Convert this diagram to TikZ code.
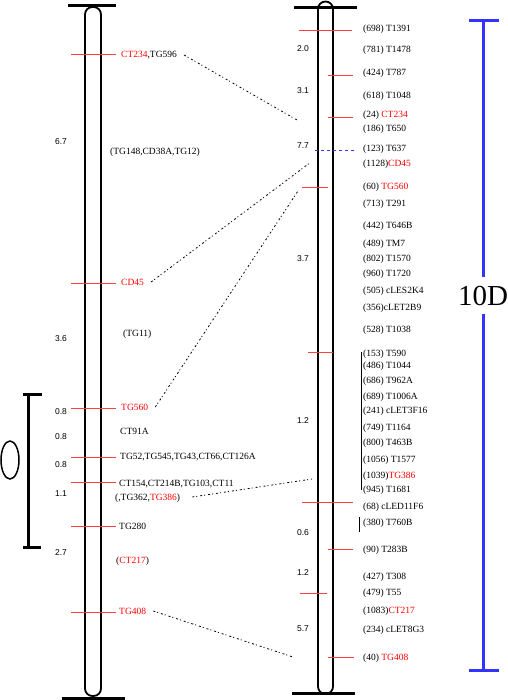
\documentclass[tikz,border=0pt]{standalone}
\usepackage{fontspec}
\setmainfont{Liberation Serif}
\newfontfamily\distfont{Liberation Sans}
\usepackage{tikz}
\usetikzlibrary{positioning}
\usepackage{xcolor}
\definecolor{tickred}{RGB}{255,64,64}
\definecolor{lblred}{RGB}{255,0,0}
\definecolor{barblue}{RGB}{51,51,255}
\newcommand{\rd}[1]{\textcolor{lblred}{#1}}

\begin{document}
\begin{tikzpicture}[
        x=1bp, y=-1bp,
        chrom/.style={draw, line width=1.8bp, rounded corners=7.5bp},
        endbar/.style={line width=3bp},
        tick/.style={draw=tickred, line width=1bp},
        mk/.style={anchor=west, inner sep=0pt, text height=6bp, text depth=0pt,
                   font=\fontsize{9.5bp}{11bp}\selectfont},
        dist/.style={inner sep=0pt, text height=6bp, text depth=0pt,
                     font=\distfont\fontsize{8.5bp}{10bp}\selectfont},
        link/.style={line width=0.8bp, dash pattern=on 2bp off 2bp on 1bp off 3bp}
      ]
      \useasboundingbox (0,0) rectangle (508,700);

      % left map
      \draw[chrom] (85,7) rectangle (101,696);
      \draw[endbar] (68,6) -- (116,6);
      \draw[endbar] (62,698) -- (125,698);
      \foreach \y in {55,283,408,457,482,526,612}
        \draw[tick] (71,\y) -- (116,\y);

      \node[mk] (lct234) at (121,55) {\rd{CT234},TG596};
      \node[mk] (ltg148) at (110,151) {(TG148,CD38A,TG12)};
      \node[mk] (lcd45) at (121,282) {\rd{CD45}};
      \node[mk] (ltg11) at (123,333) {(TG11)};
      \node[mk] (ltg560) at (121,407) {\rd{TG560}};
      \node[mk] (lct91a) at (120,431) {CT91A};
      \node[mk] (ltg52) at (120,456) {TG52,TG545,TG43,CT66,CT126A};
      \node[mk] (lct154) at (119,483) {CT154,CT214B,TG103,CT11};
      \node[mk] (ltg362) at (115,497) {(,TG362,\rd{TG386})};
      \node[mk] (ltg280) at (119,526) {TG280};
      \node[mk] (lct217) at (116,560) {(\rd{CT217})};
      \node[mk] (ltg408) at (119,611) {\rd{TG408}};

      \node[dist] (ld1) at (61,141) {6.7};
      \node[dist] (ld2) at (61,338) {3.6};
      \node[dist] (ld3) at (61,411) {0.8};
      \node[dist] (ld4) at (61,436) {0.8};
      \node[dist] (ld5) at (61,464) {0.8};
      \node[dist] (ld6) at (61,493) {1.1};
      \node[dist] (ld7) at (61,552) {2.7};

      \draw[line width=3bp] (23,394) -- (42,394) (28,394) -- (28,547) (23,547) -- (41,547);
      \draw[line width=1.5bp] (10,460) ellipse [x radius=9, y radius=19];

      % right map
      \draw[chrom] (318,1.5) rectangle (333,694);
      \draw[endbar] (294,8) -- (357,8);
      \draw[endbar] (292,693) -- (355,693);
      \draw[tick] (299,31) -- (352,31);
      \draw[tick] (328,76) -- (353,76);
      \draw[tick] (328,118) -- (353,118);
      \draw[tick] (302,187) -- (328,187);
      \draw[tick] (308,352) -- (333,352);
      \draw[tick] (302,502) -- (353,502);
      \draw[tick] (328,549) -- (353,549);
      \draw[tick] (300,593) -- (327,593);
      \draw[tick] (328,657) -- (354,657);
      \draw[barblue, line width=1bp, dashed] (315,150) -- (355,150);
      \draw[line width=0.8bp] (361,352) -- (361,490);
      \draw[line width=0.8bp] (359,517) -- (359,532);

      \node[mk] (r1391) at (363,29) {(698) T1391};
      \node[mk] (r1478) at (363,50) {(781) T1478};
      \node[mk] (r787) at (363,73) {(424) T787};
      \node[mk] (r1048) at (363,96) {(618) T1048};
      \node[mk] (rct234) at (363,115) {(24) \rd{CT234}};
      \node[mk] (r650) at (363,129) {(186) T650};
      \node[mk] (r637) at (363,148) {(123) T637};
      \node[mk] (rcd45) at (363,163) {(1128)\rd{CD45}};
      \node[mk] (rtg560) at (363,186) {(60) \rd{TG560}};
      \node[mk] (r291) at (363,203) {(713) T291};
      \node[mk] (r646b) at (363,225) {(442) T646B};
      \node[mk] (rtm7) at (363,243) {(489) TM7};
      \node[mk] (r1570) at (363,258) {(802) T1570};
      \node[mk] (r1720) at (363,273) {(960) T1720};
      \node[mk] (rles) at (363,290) {(505) cLES2K4};
      \node[mk] (rlet2) at (363,307) {(356)cLET2B9};
      \node[mk] (r1038) at (363,329) {(528) T1038};
      \node[mk] (r590) at (363,353) {(153) T590};
      \node[mk] (r1044) at (363,365) {(486) T1044};
      \node[mk] (r962a) at (363,380) {(686) T962A};
      \node[mk] (r1006a) at (363,396) {(689) T1006A};
      \node[mk] (rlet3) at (363,410) {(241) cLET3F16};
      \node[mk] (r1164) at (363,427) {(749) T1164};
      \node[mk] (r463b) at (363,442) {(800) T463B};
      \node[mk] (r1577) at (363,459) {(1056) T1577};
      \node[mk] (rtg386) at (363,475) {(1039)\rd{TG386}};
      \node[mk] (r1681) at (363,489) {(945) T1681};
      \node[mk] (rled) at (363,506) {(68) cLED11F6};
      \node[mk] (r760b) at (363,522) {(380) T760B};
      \node[mk] (r283b) at (363,549) {(90) T283B};
      \node[mk] (r308) at (363,576) {(427) T308};
      \node[mk] (r55) at (363,592) {(479) T55};
      \node[mk] (rct217) at (363,610) {(1083)\rd{CT217}};
      \node[mk] (rlet8) at (363,629) {(234) cLET8G3};
      \node[mk] (rtg408) at (363,657) {(40) \rd{TG408}};

      \node[dist] (rd1) at (303,49) {2.0};
      \node[dist] (rd2) at (303,91) {3.1};
      \node[dist] (rd3) at (303,145) {7.7};
      \node[dist] (rd4) at (303,258) {3.7};
      \node[dist] (rd5) at (303,420) {1.2};
      \node[dist] (rd6) at (303,532) {0.6};
      \node[dist] (rd7) at (303,572) {1.2};
      \node[dist] (rd8) at (303,628) {5.7};

      % links
      \coordinate (ect234) at (297,120);
      \coordinate (ecd45) at (311,162);
      \coordinate (etg560) at (298,191);
      \coordinate (etg386) at (312,479);
      \coordinate (etg408) at (293,657);
      \draw[link] ([xshift=7bp]lct234.east) -- (ect234);
      \draw[link] ([xshift=7bp]lcd45.east) -- (ecd45);
      \draw[link] ([xshift=7bp]ltg560.east) -- (etg560);
      \draw[link] ([xshift=12bp]ltg362.east) -- (etg386);
      \draw[link] ([xshift=7bp]ltg408.east) -- (etg408);

      % scale
      \node[inner sep=0pt, minimum height=37bp, font=\fontsize{29bp}{30bp}\selectfont] (tenD) at (483,295.5) {10D};
      \coordinate (stop) at (483,21);
      \coordinate (sbot) at (483,670);
      \draw[barblue, line width=3bp] (stop) -- (tenD.north) (tenD.south) -- (sbot);
      \draw[barblue, line width=3bp] (469,21) -- (499,21) (469,670) -- (499,670);
    \end{tikzpicture}
\end{document}
